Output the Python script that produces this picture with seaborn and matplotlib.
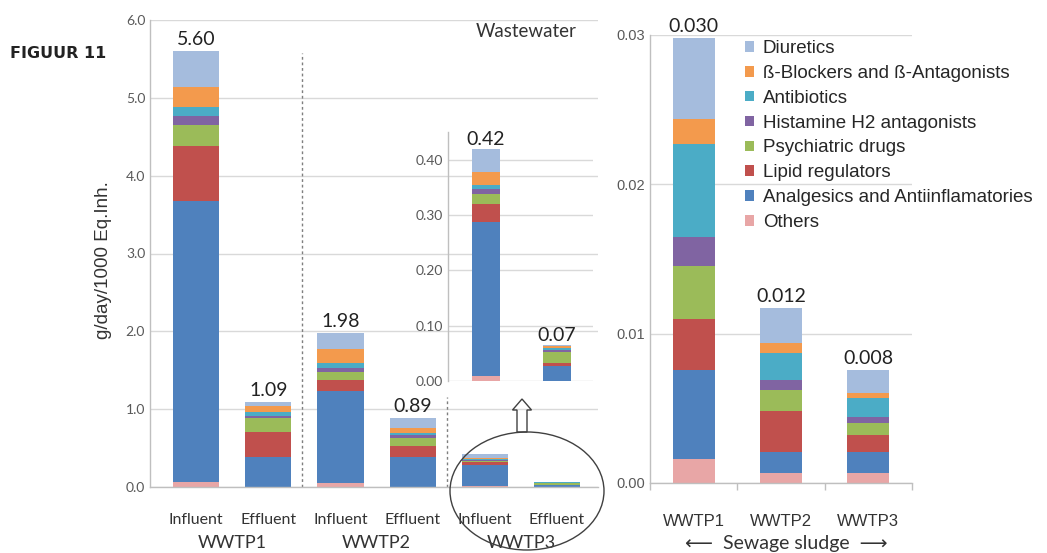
import numpy as np
import pandas as pd
import seaborn as sns
import matplotlib.pyplot as plt
from matplotlib.patches import Ellipse, FancyArrow, Patch
from matplotlib.transforms import blended_transform_factory

W, H = 1047, 553

classes = ["Diuretics", "ß-Blockers and ß-Antagonists", "Antibiotics",
           "Histamine H2 antagonists", "Psychiatric drugs", "Lipid regulators",
           "Analgesics and Antiinflamatories", "Others"]
colors = ["#A5BCDD", "#F39A4D", "#4BACC6", "#8064A2", "#9BBB59", "#C0504D",
          "#4F81BD", "#E8A6A6"]

# wastewater (g/day/1000 Eq.Inh.)
ww_samples = ["WWTP1 Influent", "WWTP1 Effluent", "WWTP2 Influent",
              "WWTP2 Effluent", "WWTP3 Influent", "WWTP3 Effluent"]
ww_kind = ["Influent", "Effluent", "Influent", "Effluent", "Influent", "Effluent"]
ww_plants = ["WWTP1", "WWTP2", "WWTP3"]
ww_diuretics = [0.46, 0.05, 0.21, 0.13, 0.042, 0.002]
ww_beta = [0.26, 0.08, 0.18, 0.07, 0.022, 0.004]
ww_antibiotics = [0.11, 0.05, 0.06, 0.02, 0.008, 0.003]
ww_histamine = [0.12, 0.02, 0.05, 0.04, 0.009, 0.004]
ww_psych = [0.27, 0.18, 0.10, 0.10, 0.018, 0.020]
ww_lipid = [0.70, 0.32, 0.15, 0.14, 0.033, 0.004]
ww_analgesics = [3.62, 0.39, 1.18, 0.39, 0.278, 0.028]
ww_others = [0.06, 0.00, 0.05, 0.00, 0.009, 0.000]
ww_totals = ["5.60", "1.09", "1.98", "0.89", "0.42", "0.07"]

# sewage sludge
sl_plants = ["WWTP1", "WWTP2", "WWTP3"]
sl_diuretics = [0.0054, 0.0023, 0.0016]
sl_beta = [0.0017, 0.0007, 0.0003]
sl_antibiotics = [0.0062, 0.0018, 0.0013]
sl_histamine = [0.0020, 0.0007, 0.0004]
sl_psych = [0.0035, 0.0014, 0.0008]
sl_lipid = [0.0034, 0.0027, 0.0011]
sl_analgesics = [0.0060, 0.0014, 0.0014]
sl_others = [0.0016, 0.0007, 0.0007]
sl_totals = ["0.030", "0.012", "0.008"]

sns.set_theme(style="white")
plt.rcParams["font.family"] = ["Lato", "DejaVu Sans"]

GRID = "#D9D9D9"
SPINE = "#BFBFBF"


def fx(px):
    return px / W


def fy(py):
    return (H - py) / H


def axes_px(fig, x0, x1, ytop, ybot):
    return fig.add_axes([fx(x0), fy(ybot), fx(x1) - fx(x0), (ybot - ytop) / H])


def stacked(ax, cats, layers, width):
    # layers from top class to bottom class; draw cumulative heights, tallest first
    vals = np.array(layers[::-1])
    cum = np.cumsum(vals, axis=0)[::-1]
    for k in range(len(layers)):
        df = pd.DataFrame({"s": cats, "v": cum[k]})
        sns.barplot(data=df, x="s", y="v", order=cats, color=colors[k],
                    saturation=1, width=width, errorbar=None, linewidth=0,
                    edgecolor="none", ax=ax)
    return cum[0]


def style(ax):
    for s in ["top", "right"]:
        ax.spines[s].set_visible(False)
    for s in ["left", "bottom"]:
        ax.spines[s].set_color(SPINE)
        ax.spines[s].set_linewidth(1)
    ax.grid(axis="y", color=GRID, lw=1)
    ax.set_axisbelow(True)
    ax.set_xlabel("")
    ax.set_ylabel("")
    ax.tick_params(axis="y", length=0, labelcolor="#595959")


fig = plt.figure(figsize=(W / 100, H / 100), dpi=100)

# ---- main wastewater chart
ax = axes_px(fig, 150, 598, 20, 487)
ww_layers = [ww_diuretics, ww_beta, ww_antibiotics, ww_histamine, ww_psych,
             ww_lipid, ww_analgesics, ww_others]
tot = stacked(ax, ww_samples, ww_layers, 0.64)
style(ax)
ax.set_ylim(0, 6)
ax.set_xlim(-0.64, 5.57)
ax.set_yticks(np.arange(0, 6.1, 1))
ax.set_yticklabels([f"{v:.1f}" for v in np.arange(0, 6.1, 1)], fontsize=10)
ax.set_xticks(range(6))
ax.set_xticklabels(ww_kind, fontsize=11.5, color="#333333")
ax.tick_params(axis="x", length=0, pad=19)
for i in range(4):
    ax.text(i, tot[i] + 0.04, ww_totals[i], ha="center", va="bottom",
            fontsize=14, color="#222222")
tr = blended_transform_factory(ax.transData, fig.transFigure)
for i, p in enumerate(ww_plants):
    ax.text(2 * i + 0.5, fy(543), p, transform=tr, ha="center", va="center",
            fontsize=13, color="#333333")
ax.text(5.27, 5.85, "Wastewater", ha="right", va="center", fontsize=13.5,
        color="#333333")
ax.plot([1.47, 1.47], [0, 5.58], color="#7F7F7F", lw=1, ls=(0, (2, 2)))
ax.plot([3.48, 3.48], [0, 1.16], color="#7F7F7F", lw=1, ls=(0, (2, 2)))
fig.text(fx(104), fy(260), "g/day/1000 Eq.Inh.", rotation=90, ha="center",
         va="center", fontsize=13.5, color="#333333", family="Liberation Sans")

# ---- inset zoom on WWTP3
axi = axes_px(fig, 448, 593, 132, 381)
axi.set_facecolor("none")
tot3 = stacked(axi, ww_samples[4:], [l[4:] for l in ww_layers], 0.39)
style(axi)
axi.spines["bottom"].set_visible(False)
axi.set_ylim(0, 0.45)
axi.set_xlim(-0.535, 1.507)
axi.set_yticks(np.arange(0, 0.41, 0.1))
axi.set_yticklabels([f"{v:.2f}" for v in np.arange(0, 0.41, 0.1)], fontsize=10)
axi.set_xticks([])
for i in range(2):
    axi.text(i, tot3[i] + 0.002, ww_totals[4 + i], ha="center", va="bottom",
             fontsize=14, color="#222222")

# ---- sewage sludge chart
axr = axes_px(fig, 650, 912, 35, 483)
tots = stacked(axr, sl_plants, [sl_diuretics, sl_beta, sl_antibiotics,
                                sl_histamine, sl_psych, sl_lipid,
                                sl_analgesics, sl_others], 0.48)
style(axr)
axr.set_ylim(0, 0.03)
axr.set_xlim(-0.5, 2.5)
axr.set_yticks([0, 0.01, 0.02, 0.03])
axr.set_yticklabels(["0.00", "0.01", "0.02", "0.03"], fontsize=10.5,
                    family="Liberation Sans")
axr.set_xticks(range(3))
axr.set_xticklabels(sl_plants, fontsize=12, color="#333333",
                    family="Liberation Sans")
axr.set_xticks([-0.5, 0.5, 1.5, 2.5], minor=True)
axr.tick_params(axis="x", which="major", length=0, pad=22)
axr.tick_params(axis="x", which="minor", length=5, color=SPINE, direction="out",
                bottom=True)
for i in range(3):
    axr.text(i, tots[i] + 0.0002, sl_totals[i], ha="center", va="bottom",
             fontsize=14, color="#222222")
fig.text(fx(786), fy(543), "⟵  Sewage sludge  ⟶", ha="center", va="center",
         fontsize=14, color="#333333", family=["Lato", "DejaVu Sans"])

handles = [Patch(facecolor=c, edgecolor="none") for c in colors]
fig.legend(handles, classes, loc="upper left", bbox_to_anchor=(fx(745), fy(40)),
           frameon=False, handlelength=0.5, handleheight=0.5,
           handletextpad=0.45, labelspacing=0.42, borderpad=0, borderaxespad=0,
           prop={"family": "Liberation Sans", "size": 13.5})

# ---- zoom ellipse and arrow
fig.add_artist(Ellipse((fx(527), fy(491)), 154 / W, 118 / H, fill=False,
                       edgecolor="#404040", lw=1, transform=fig.transFigure))
fig.add_artist(FancyArrow(fx(522), fy(432), 0, 22 / H, width=10 / W,
                          head_width=19 / W, head_length=11 / H,
                          length_includes_head=False, fill=False,
                          edgecolor="#404040", lw=1, transform=fig.transFigure))

fig.text(fx(10), fy(53), "FIGUUR 11", ha="left", va="center", fontsize=11.5,
         fontweight="bold", color="#222222", family="DejaVu Sans")

fig.savefig("out.png", dpi=100)
